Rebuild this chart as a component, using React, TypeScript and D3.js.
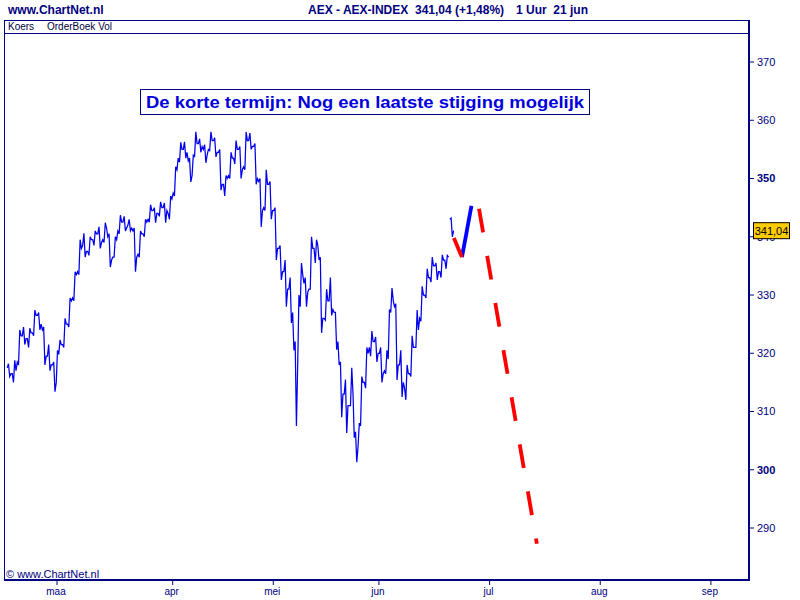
import React from 'react';
import * as d3 from 'd3';

// Month ticks (trading-day index of the first trading day of each month, day 0 = 1 maart)
const monthLabels = ['maa', 'apr', 'mei', 'jun', 'jul', 'aug', 'sep'];
const monthStartDay = [0, 23, 43, 64, 86, 108, 130];

// Price axis
const yTicks = [290, 300, 310, 320, 330, 340, 350, 360, 370];
const boldTicks = [300, 350];

// Daily values (trading days from index -10 = 15 feb to 78 = 21 jun)
const firstDay = -10;
const dayOpen = [
  317.5, 316.5, 318.5, 323, 322.5, 323.5, 326.5, 324, 319.5, 318,
  320.5, 321.5, 325, 329.5, 334, 338.5, 337.5, 339.5, 340.5, 339.5,
  340, 336.5, 341, 342.5, 342, 341, 337, 340.5, 343, 344.5,
  344, 345, 344, 347.5, 353.5, 355, 353, 354, 356, 355,
  355, 356.5, 354.5, 349, 350.5, 353.5, 355, 352, 356.5, 355.5,
  349.5, 345, 349, 344.5, 338, 334, 331, 320.5, 330, 332,
  331, 338, 336, 326, 329, 327, 318, 313, 311, 305.5,
  308, 315, 321, 322, 320, 317, 327.5, 328, 318, 314,
  316.5, 321, 326, 330, 333, 335, 334, 336, 343,
];
const dayHigh = [
  318.2, 318.8, 324, 324.5, 324.3, 327.4, 327, 324.5, 321.5, 318.5,
  322.3, 326, 329.5, 334, 339.5, 340.6, 340, 341, 341.7, 342.4,
  340.5, 340, 343.7, 343.5, 343, 341.5, 341, 343, 345.5, 345,
  346, 345.8, 347, 352, 356.2, 356.3, 353.5, 358, 356.8, 355.8,
  358, 357, 355, 350.5, 354.5, 356.5, 355.5, 358, 357.8, 356,
  350, 351.5, 349.5, 345, 338.5, 336, 333, 322, 335.5, 333,
  340, 339.5, 336.5, 331, 333, 327, 318.5, 315.5, 317.5, 306.5,
  316, 321, 323.8, 322.8, 321, 320.5, 331.2, 328.5, 320.5, 318,
  323, 327.4, 331.5, 334.5, 336.5, 335.5, 336.9, 336.8, 343.2,
];
const dayLow = [
  316, 315, 318, 321.5, 321, 323, 324, 318, 317, 313.4,
  319.8, 321, 324.5, 329, 333.5, 336.5, 336.8, 338.5, 338, 339,
  334.8, 336.5, 340.5, 341, 341, 334, 336.5, 340, 342.5, 342.4,
  343.5, 342.4, 343, 347, 352.8, 353.5, 349.4, 353.8, 354.5, 352.7,
  354.8, 353.7, 348, 347, 350, 352.5, 350, 351.5, 355, 349,
  341.7, 344.5, 343, 336, 332.6, 328, 325.2, 307.5, 328, 328,
  331, 335.5, 323.5, 325.7, 326.5, 320.6, 309, 306.3, 311, 301.3,
  307.5, 314, 319.5, 318.5, 315, 316.5, 327, 315.4, 312.5, 312,
  316, 321, 325.5, 329.5, 332.2, 332.6, 333, 334.5, 340,
];
const dayClose = [
  316.5, 317, 323, 322.5, 323.5, 326.5, 325, 319.5, 318, 315,
  321.5, 325, 329, 333.5, 338, 337.5, 339.5, 340.5, 339, 341.5,
  336, 339.5, 342.5, 341.5, 341.5, 336.5, 340.5, 342.5, 344.5, 344,
  345, 344.5, 346.5, 351.5, 355, 354.5, 350.5, 356, 355.5, 354,
  356.5, 354.5, 349, 350, 353.5, 355, 351.5, 356.5, 355.5, 350,
  344.5, 349, 344.5, 338, 334, 331, 327, 318, 333.5, 330.5,
  338, 338.5, 326, 329, 327.5, 322, 313, 311, 313, 304,
  315, 320, 322, 320, 316.5, 319, 329, 318, 315, 316.5,
  321, 324, 330, 333, 335, 334, 336, 336.5, 341.04,
];
const sessionBreakDays = [78];
const lastPrice = 341.04;

// Hand-drawn scenario lines: [trading-day index, price]
const scenarioRedShort: [number, number][] = [[78.9, 339.8], [80.5, 336.5]];
const scenarioBlue: [number, number][] = [[80.5, 336.5], [82.4, 345.3]];
const scenarioRedLong: [number, number][] = [[83.9, 344.8], [95.4, 287.3]];

const headerLeft = 'www.ChartNet.nl';
const headerName = 'AEX - AEX-INDEX';
const headerPrice = '341,04 (+1,48%)';
const headerPeriod = '1 Uur  21 jun';
const titleText = 'De korte termijn: Nog een laatste stijging mogelijk';
const copyright = '\u00A9 www.ChartNet.nl';

const FONT = '"Liberation Sans", Arial, Helvetica, sans-serif';
const NAVY = '#000080';

export default function App() {
  const W = 800;
  const H = 600;
  const left = 4, top = 20, right = 749, bottom = 580, stripBottom = 33;

  const x = d3.scaleLinear().domain([0, 130]).range([57, 710.9]);
  const y = d3.scaleLinear().domain([290, 370]).range([528, 62]);

  // Build price segments from daily values
  const segments: [number, number][][] = [];
  let current: [number, number][] = [];
  const fr = [0.1, 0.35, 0.6, 0.85];
  dayOpen.forEach((o, i) => {
    const d = firstDay + i;
    if (sessionBreakDays.includes(d) && current.length) {
      segments.push(current);
      current = [];
    }
    const h = dayHigh[i], l = dayLow[i], c = dayClose[i];
    const seq = c >= o ? [o, l, h, c] : [o, h, l, c];
    seq.forEach((v, k) => current.push([d + fr[k], v]));
  });
  if (current.length) segments.push(current);

  const line = d3.line<[number, number]>().x((p) => x(p[0])).y((p) => y(p[1]));

  const ly = y(lastPrice);

  return (
    <svg width={W} height={H} style={{ position: 'absolute', left: 0, top: 0, background: '#fff' }} fontFamily={FONT}>
      <rect x={0} y={0} width={W} height={H} fill="#fff" />
      {/* header */}
      <text x={8} y={14} fontSize={12} fontWeight="bold" fill={NAVY}>{headerLeft}</text>
      <text x={308} y={14} fontSize={12} fontWeight="bold" fill={NAVY}>{headerName}</text>
      <text x={415} y={14} fontSize={12} fontWeight="bold" fill={NAVY}>{headerPrice}</text>
      <text x={516} y={14} fontSize={12} fontWeight="bold" fill={NAVY} style={{ whiteSpace: 'pre' }}>{headerPeriod}</text>

      {/* frame */}
      <line x1={left} y1={top + 0.5} x2={right} y2={top + 0.5} stroke={NAVY} strokeWidth={1} />
      <line x1={left} y1={stripBottom + 0.5} x2={right} y2={stripBottom + 0.5} stroke={NAVY} strokeWidth={1} />
      <line x1={left + 0.5} y1={top} x2={left + 0.5} y2={bottom} stroke={NAVY} strokeWidth={1} />
      <line x1={right} y1={top} x2={right} y2={bottom + 1} stroke={NAVY} strokeWidth={2} />
      <line x1={left} y1={bottom} x2={right + 1} y2={bottom} stroke={NAVY} strokeWidth={2} />
      <text x={8} y={30} fontSize={10} fill="#000040">Koers</text>
      <text x={47} y={30} fontSize={10} fill="#000040">OrderBoek Vol</text>

      {/* y axis */}
      {yTicks.map((t) => (
        <g key={t}>
          <line x1={right + 1} x2={right + 5} y1={y(t)} y2={y(t)} stroke={NAVY} strokeWidth={1} />
          <text x={757} y={y(t)} dy="0.35em" fontSize={11} fill={NAVY} fontWeight={boldTicks.includes(t) ? 'bold' : 'normal'}>{t}</text>
        </g>
      ))}

      {/* x axis */}
      {monthLabels.map((m, i) => (
        <g key={m}>
          <line x1={x(monthStartDay[i])} x2={x(monthStartDay[i])} y1={bottom + 1} y2={bottom + 5} stroke={NAVY} strokeWidth={1} />
          <text x={x(monthStartDay[i]) - 1} y={595} textAnchor="middle" fontSize={10} fill={NAVY}>{m}</text>
        </g>
      ))}

      {/* price line */}
      {segments.map((s, i) => (
        <path key={i} d={line(s) || ''} fill="none" stroke="#0000ee" strokeWidth={1.25} />
      ))}

      {/* scenario lines */}
      <path d={line(scenarioBlue) || ''} fill="none" stroke="#0000ff" strokeWidth={3.8} />
      <path d={line(scenarioRedShort) || ''} fill="none" stroke="#ff0000" strokeWidth={3.8} />
      <path d={line(scenarioRedLong) || ''} fill="none" stroke="#ff0000" strokeWidth={3.8} strokeDasharray="24 23.8" />

      {/* title box */}
      <rect x={140.5} y={89.5} width={449} height={25} fill="#fff" stroke={NAVY} strokeWidth={1} />
      <text x={146} y={108} fontSize={17} fontWeight="bold" fill="#0000dd" textLength={438} lengthAdjust="spacingAndGlyphs">{titleText}</text>

      {/* last price label */}
      <rect x={753.5} y={ly - 8} width={36} height={16} fill="#ffcc00" stroke="#000" strokeWidth={1} />
      <text x={771.5} y={ly} dy="0.35em" textAnchor="middle" fontSize={11} fill="#000">341,04</text>

      {/* copyright */}
      <text x={6} y={578} fontSize={11} fill={NAVY}>{copyright}</text>
    </svg>
  );
}
